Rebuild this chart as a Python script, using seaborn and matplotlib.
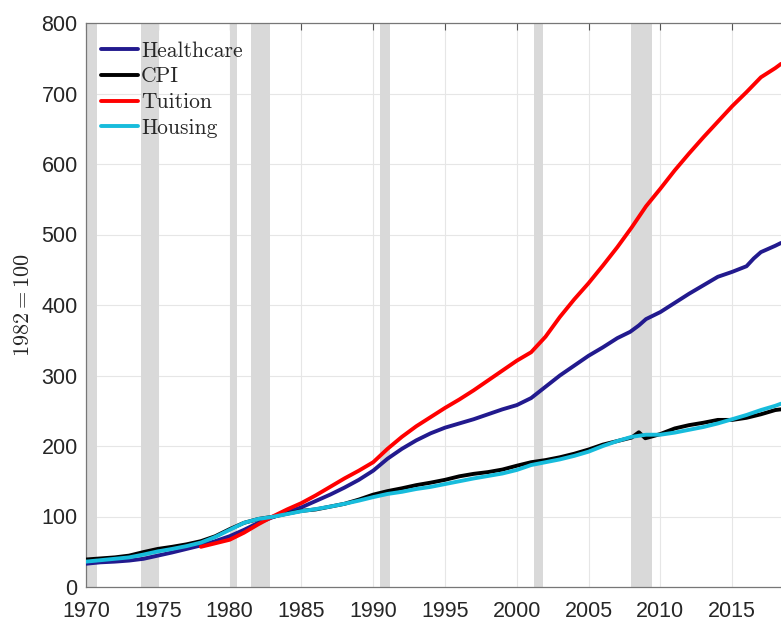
import numpy as np
import pandas as pd
import seaborn as sns
import matplotlib.pyplot as plt

# values (index, 1982=100)
health_years = [1970, 1971, 1972, 1973, 1974, 1975, 1976, 1977, 1978, 1979,
                1980, 1981, 1982, 1983, 1984, 1985, 1986, 1987, 1988, 1989,
                1990, 1991, 1992, 1993, 1994, 1995, 1996, 1997, 1998, 1999,
                2000, 2001, 2002, 2003, 2004, 2005, 2006, 2007, 2007.9, 2008.5,
                2009, 2010, 2011, 2012, 2013, 2014, 2015, 2016, 2016.5, 2017, 2018, 2018.4]
health_vals = [33, 35, 36, 37.5, 40, 44.5, 49, 54, 59, 65,
               72, 81, 91, 99, 106, 113, 122, 131, 141, 152,
               165, 182, 196, 208, 218, 226, 232, 238, 245, 252,
               258, 268, 284, 300, 314, 328, 340, 353, 362, 371,
               380, 390, 403, 416, 428, 440, 447, 455, 466, 475, 484, 488]

cpi_years = [1970, 1971, 1972, 1973, 1974, 1975, 1976, 1977, 1978, 1979,
             1980, 1981, 1982, 1983, 1984, 1985, 1986, 1987, 1988, 1989,
             1990, 1991, 1992, 1993, 1994, 1995, 1996, 1997, 1998, 1999,
             2000, 2001, 2002, 2003, 2004, 2005, 2006, 2007, 2008, 2008.5,
             2008.95, 2009.5, 2010, 2011, 2012, 2013, 2014, 2015, 2016, 2017, 2018, 2018.4]
cpi_vals = [39, 40.5, 42, 44.5, 49.5, 54, 57, 60.5, 65, 72,
            82, 91, 96.5, 99.6, 104, 108, 110, 114, 118, 124,
            131, 136, 140, 144.5, 148, 152, 157, 160.5, 163, 166.6,
            172, 177, 180, 184, 189, 195, 202, 207, 212, 219.5,
            211, 214, 217, 224.9, 229.6, 233, 237, 237, 240, 245, 251, 252]

tuition_years = [1978, 1979, 1980, 1981, 1982, 1983, 1984, 1985, 1986, 1987,
                 1988, 1989, 1990, 1991, 1992, 1993, 1994, 1995, 1996, 1997,
                 1998, 1999, 2000, 2001, 2002, 2003, 2004, 2005, 2006, 2007,
                 2008, 2009, 2010, 2011, 2012, 2013, 2014, 2015, 2016, 2017,
                 2018, 2018.4]
tuition_vals = [57, 62, 67, 77, 89, 100, 110, 119, 130, 142,
                154, 165, 177, 196, 213, 228, 241, 254, 266, 279,
                293, 307, 321, 333, 355, 383, 408, 431, 456, 482,
                510, 540, 565, 591, 615, 638, 660, 682, 702, 723,
                736, 742]

housing_years = [1970, 1971, 1972, 1973, 1974, 1975, 1976, 1977, 1978, 1979,
                 1980, 1981, 1982, 1983, 1984, 1985, 1986, 1987, 1988, 1989,
                 1990, 1991, 1992, 1993, 1994, 1995, 1996, 1997, 1998, 1999,
                 2000, 2001, 2002, 2003, 2004, 2005, 2006, 2007, 2008, 2009,
                 2010, 2011, 2012, 2013, 2014, 2015, 2016, 2017, 2018, 2018.4]
housing_vals = [36, 38, 40, 42, 46, 50.5, 54, 58, 63, 71,
                81, 91, 96.5, 99.5, 103.5, 107.5, 110.5, 114, 118, 122.5,
                127.5, 132, 135, 139, 142, 146, 150, 154, 157.5, 161,
                166, 173, 177, 181, 186, 192, 200, 207, 213, 216,
                216, 219, 223, 227, 232, 238, 244, 251, 257, 260]

# NBER recessions (start, end)
rec_start = [1969.92, 1973.83, 1980.0, 1981.5, 1990.5, 2001.17, 2007.92]
rec_end = [1970.8, 1975.1, 1980.5, 1982.83, 1991.15, 2001.83, 2009.42]

sns.set_style('white')
plt.rcParams['font.family'] = ['Liberation Sans', 'DejaVu Sans']
plt.rcParams['mathtext.fontset'] = 'cm'

fig = plt.figure(figsize=(7.81, 6.22), dpi=100)
ax = fig.add_axes([86 / 781, 35 / 622, 695 / 781, 564 / 622])

for s, e in zip(rec_start, rec_end):
    ax.axvspan(s, e, color='#d9d9d9', lw=0, zorder=1)

series = [
    ('Healthcare', health_years, health_vals, '#221a8e'),
    ('CPI', cpi_years, cpi_vals, 'black'),
    ('Tuition', tuition_years, tuition_vals, '#ff0000'),
    ('Housing', housing_years, housing_vals, '#17bcdc'),
]
for name, xs, ys, col in series:
    df = pd.DataFrame({'year': xs, 'value': ys})
    sns.lineplot(data=df, x='year', y='value', ax=ax, color=col, lw=2.8,
                 label=name, zorder=3)

ax.set_xlim(1970, 2018.4)
ax.set_ylim(0, 800)
ax.set_xticks(np.arange(1970, 2016, 5))
ax.set_yticks(np.arange(0, 801, 100))
ax.grid(True, color='#e6e6e6', lw=0.8, zorder=0)
ax.set_axisbelow(True)
ax.tick_params(direction='in', length=5, width=0.8, color='#555555',
               labelsize=15.5, labelcolor='#262626', top=True, right=False)
ax.tick_params(axis='x', pad=10)
ax.tick_params(axis='y', pad=6)
for side in ['left', 'bottom', 'top']:
    ax.spines[side].set_color('#777777')
    ax.spines[side].set_linewidth(0.9)
ax.spines['right'].set_visible(False)

ax.set_xlabel('')
ax.set_ylabel(r'$1982=100$', fontsize=16, color='#262626', labelpad=5)

ax.legend(loc='upper left', bbox_to_anchor=(0.022, 0.968), frameon=False,
          prop={'family': 'cmr10', 'size': 15.5}, handlelength=1.7,
          handletextpad=0.15, labelspacing=0.29, borderaxespad=0, borderpad=0)

fig.savefig('out.png', dpi=100)
